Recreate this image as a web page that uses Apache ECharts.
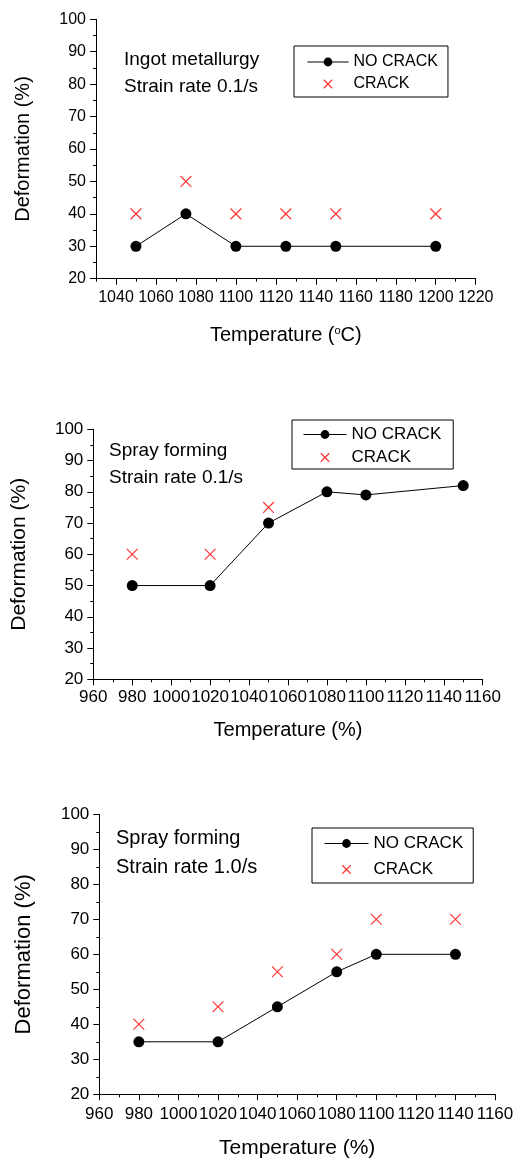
<!DOCTYPE html>
<html><head><meta charset="utf-8">
<script src="https://cdn.jsdelivr.net/npm/echarts@6.0.0/dist/echarts.min.js"></script>
<style>html,body{margin:0;padding:0;background:#fff}#c{width:527px;height:1160px}</style>
</head><body><div id="c"></div>
<script>
// ---- Panel 1: Ingot metallurgy, 0.1/s ----
const p1Temp = [1050, 1075, 1100, 1125, 1150, 1200];
const p1NoCrack = [30, 40, 30, 30, 30, 30];
const p1CrackTemp = [1050, 1075, 1100, 1125, 1150, 1200];
const p1Crack = [40, 50, 40, 40, 40, 40];
// ---- Panel 2: Spray forming, 0.1/s ----
const p2Temp = [980, 1020, 1050, 1080, 1100, 1150];
const p2NoCrack = [50, 50, 70, 80, 79, 82];
const p2CrackTemp = [980, 1020, 1050];
const p2Crack = [60, 60, 75];
// ---- Panel 3: Spray forming, 1.0/s ----
const p3Temp = [980, 1020, 1050, 1080, 1100, 1140];
const p3NoCrack = [35, 35, 45, 55, 60, 60];
const p3CrackTemp = [980, 1020, 1050, 1080, 1100, 1140];
const p3Crack = [40, 45, 55, 60, 70, 70];

// ---- Tick labels ----
const p1XTicks = [1040, 1060, 1080, 1100, 1120, 1140, 1160, 1180, 1200, 1220];
const p1XMinorTicks = [1030, 1050, 1070, 1090, 1110, 1130, 1150, 1170, 1190, 1210];
const p23XTicks = [960, 980, 1000, 1020, 1040, 1060, 1080, 1100, 1120, 1140, 1160];
const yTicks = [20, 30, 40, 50, 60, 70, 80, 90, 100];

const panelTitles = ['Ingot metallurgy\nStrain rate 0.1/s', 'Spray forming\nStrain rate 0.1/s', 'Spray forming\nStrain rate 1.0/s'];
const xNames = ['Temperature ({sup|o}C)', 'Temperature (%)', 'Temperature (%)'];
const yName = 'Deformation (%)';
const legendNames = ['NO CRACK', 'CRACK'];

const FONT = '"Liberation Sans", Arial, sans-serif';
const zip = (xs, ys) => xs.map((x, i) => [x, ys[i]]);
const CROSS = 'path://M0 0L10 10M10 0L0 10M-1.5 -1.5M11.5 11.5';
const plain = (v) => String(v);

const axisLineStyle = { show: true, lineStyle: { color: '#000', width: 1 } };
function yAxisFor(gi, gap, nameFs, labelFs) {
  return {
    type: 'value', gridIndex: gi, min: yTicks[0], max: yTicks[yTicks.length - 1], interval: 10,
    axisLine: axisLineStyle,
    axisTick: { show: true, length: 6, lineStyle: { color: '#000' } },
    minorTick: { show: true, splitNumber: 2, length: 3, lineStyle: { color: '#000' } },
    splitLine: { show: false },
    axisLabel: { color: '#000', fontSize: labelFs, margin: 10, fontFamily: FONT, formatter: plain,
      showMinLabel: true, showMaxLabel: true },
    name: yName, nameLocation: 'middle', nameRotate: 90, nameGap: gap,
    nameTextStyle: { color: '#000', fontSize: nameFs, fontFamily: FONT }
  };
}
function xNameStyle(fs) {
  return { color: '#000', fontSize: fs, fontFamily: FONT,
    rich: { sup: { fontSize: 11, verticalAlign: 'top', fontFamily: FONT, color: '#000' } } };
}

const xAxis = [
  { type: 'value', gridIndex: 0, min: 1030, max: 1220,
    axisLine: axisLineStyle,
    axisTick: { show: true, length: 6, customValues: p1XTicks, lineStyle: { color: '#000' } },
    splitLine: { show: false },
    axisLabel: { color: '#000', fontSize: 16, margin: 11, fontFamily: FONT, customValues: p1XTicks,
      formatter: plain, hideOverlap: false, showMaxLabel: true },
    name: xNames[0], nameLocation: 'middle', nameGap: 47, nameTextStyle: xNameStyle(20) },
  { type: 'value', gridIndex: 1, min: 1030, max: 1220,
    axisLine: { show: false },
    axisTick: { show: true, length: 3, customValues: p1XMinorTicks, lineStyle: { color: '#000' } },
    splitLine: { show: false }, axisLabel: { show: false } },
  { type: 'value', gridIndex: 2, min: 960, max: 1160, interval: 20,
    axisLine: axisLineStyle,
    axisTick: { show: true, length: 6, customValues: p23XTicks, lineStyle: { color: '#000' } },
    minorTick: { show: true, splitNumber: 2, length: 3, lineStyle: { color: '#000' } },
    splitLine: { show: false },
    axisLabel: { color: '#000', fontSize: 17, margin: 10, fontFamily: FONT, formatter: plain,
      customValues: p23XTicks, hideOverlap: false, showMinLabel: true, showMaxLabel: true },
    name: xNames[1], nameLocation: 'middle', nameGap: 41, nameTextStyle: xNameStyle(20) },
  { type: 'value', gridIndex: 3, min: 960, max: 1160, interval: 20,
    axisLine: axisLineStyle,
    axisTick: { show: true, length: 6, customValues: p23XTicks, lineStyle: { color: '#000' } },
    minorTick: { show: true, splitNumber: 2, length: 3, lineStyle: { color: '#000' } },
    splitLine: { show: false },
    axisLabel: { color: '#000', fontSize: 17, margin: 12, fontFamily: FONT, formatter: plain,
      customValues: p23XTicks, hideOverlap: false, showMinLabel: true, showMaxLabel: true },
    name: xNames[2], nameLocation: 'middle', nameGap: 43, nameTextStyle: xNameStyle(21) }
];

const yAxis = [
  yAxisFor(0, 63, 20, 16),
  { type: 'value', gridIndex: 1, min: 20, max: 100, show: false },
  yAxisFor(2, 64, 21, 17),
  yAxisFor(3, 64, 22, 17)
];

function lineSeries(xi, data) {
  return { name: legendNames[0], type: 'line', xAxisIndex: xi, yAxisIndex: xi, data: data,
    symbol: 'circle', symbolSize: 11, itemStyle: { color: '#000' },
    lineStyle: { color: '#000', width: 1 }, z: 3 };
}
function crossSeries(xi, data) {
  return { name: legendNames[1], type: 'scatter', xAxisIndex: xi, yAxisIndex: xi, data: data,
    symbol: CROSS, symbolSize: 14,
    itemStyle: { color: 'none', borderColor: '#ff0000', borderWidth: 1.2 }, z: 2 };
}

function legendFor(left, top, pad, gap, fs, iw) {
  return { left: left, top: top, orient: 'vertical', itemWidth: iw, itemHeight: 11, itemGap: gap,
    padding: pad, borderColor: '#000', borderWidth: 1, selectedMode: false,
    textStyle: { color: '#000', fontSize: fs, lineHeight: fs, fontFamily: FONT },
    data: [ { name: legendNames[0], lineStyle: { color: '#000', width: 1 } },
            { name: legendNames[1], itemStyle: { color: 'none', borderColor: '#ff0000', borderWidth: 1.2 } } ] };
}
function titleFor(text, left, top, fs, lh) {
  return { text: text, left: left, top: top, padding: 0,
    textStyle: { color: '#000', fontSize: fs, fontWeight: 'normal', fontFamily: FONT, lineHeight: lh } };
}

const option = {
  backgroundColor: '#fff',
  animation: false,
  title: [
    titleFor(panelTitles[0], 124, 46.5, 19, 27),
    titleFor(panelTitles[1], 109, 437.5, 19, 27),
    titleFor(panelTitles[2], 116, 823.5, 20, 29)
  ],
  legend: [
    legendFor(294, 46, [8, 10, 5, 13], 6, 16, 41),
    legendFor(292, 420, [6, 12, 3, 11], 6, 17, 43),
    legendFor(312, 828, [7, 10, 5, 12], 9, 17, 44)
  ],
  grid: [
    { left: 96, top: 19.3, width: 379.7, height: 259.4 },
    { left: 96, top: 19.3, width: 379.7, height: 259.4 },
    { left: 93.3, top: 429.3, width: 389.4, height: 250 },
    { left: 99.3, top: 814.3, width: 395.7, height: 280 }
  ],
  xAxis: xAxis,
  yAxis: yAxis,
  series: [
    lineSeries(0, zip(p1Temp, p1NoCrack)),
    crossSeries(0, zip(p1CrackTemp, p1Crack)),
    lineSeries(2, zip(p2Temp, p2NoCrack)),
    crossSeries(2, zip(p2CrackTemp, p2Crack)),
    lineSeries(3, zip(p3Temp, p3NoCrack)),
    crossSeries(3, zip(p3CrackTemp, p3Crack))
  ]
};
const chart = echarts.init(document.getElementById('c'), null, { renderer: 'canvas' });
chart.setOption(option);
</script></body></html>
